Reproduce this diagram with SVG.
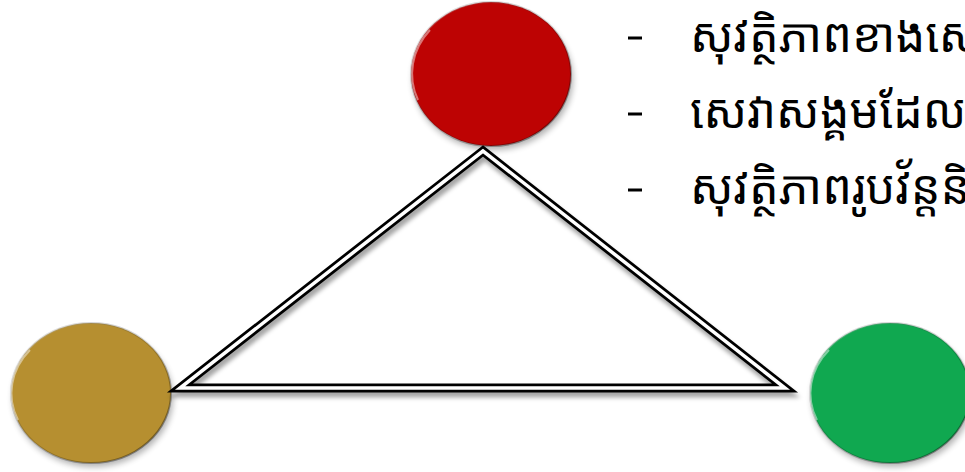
<svg xmlns="http://www.w3.org/2000/svg" width="965" height="472" viewBox="0 0 965 472">
<defs>
<style>
.txt{font-family:"Noto Sans Khmer","Khmer OS","Noto Sans","DejaVu Sans",sans-serif;font-size:47px;fill:#000}
.dash{stroke:#000;stroke-width:3}
.hl{fill:none;stroke:#fff;stroke-width:2;opacity:0.45}
</style>
<filter id="sh" x="-20%" y="-20%" width="140%" height="150%">
<feGaussianBlur stdDeviation="3"/>
</filter>
<filter id="tsh" x="-10%" y="-10%" width="120%" height="130%">
<feGaussianBlur stdDeviation="2"/>
</filter>
<linearGradient id="rim" x1="0" y1="0" x2="1" y2="1">
<stop offset="0" stop-color="#fff" stop-opacity="0.5"/>
<stop offset="0.5" stop-color="#000" stop-opacity="0.15"/>
<stop offset="1" stop-color="#000" stop-opacity="0.45"/>
</linearGradient>
</defs>

<g id="node-red">
<ellipse cx="493" cy="79" rx="80" ry="71" fill="#000" opacity="0.3" filter="url(#sh)"/>
<ellipse cx="491" cy="74" rx="80" ry="72" fill="#BD0303"/>
<ellipse cx="491" cy="74" rx="80" ry="72" fill="none" stroke="url(#rim)" stroke-width="2"/>
<path class="hl" d="M 418 100 A 76 68 0 0 1 430 30"/>
</g>

<g id="node-gold">
<ellipse cx="93" cy="398" rx="80" ry="69" fill="#000" opacity="0.3" filter="url(#sh)"/>
<ellipse cx="91" cy="393" rx="80" ry="70" fill="#B68F30"/>
<ellipse cx="91" cy="393" rx="80" ry="70" fill="none" stroke="url(#rim)" stroke-width="2"/>
<path class="hl" d="M 18 420 A 76 66 0 0 1 30 350"/>
</g>

<g id="node-green">
<ellipse cx="892" cy="398" rx="80" ry="69" fill="#000" opacity="0.3" filter="url(#sh)"/>
<ellipse cx="890" cy="393" rx="80" ry="70" fill="#10A850"/>
<ellipse cx="890" cy="393" rx="80" ry="70" fill="none" stroke="url(#rim)" stroke-width="2"/>
<path class="hl" d="M 817 420 A 76 66 0 0 1 829 350"/>
</g>

<g id="connectors">
<polygon points="483,151 180,388 785,388" fill="none" stroke="#000" stroke-opacity="0.35" stroke-width="9" transform="translate(2,5)" filter="url(#tsh)"/>
<polygon points="483,151 180,388 785,388" fill="none" stroke="#000" stroke-width="9" stroke-linejoin="miter" stroke-miterlimit="20"/>
<polygon points="483,151 180,388 785,388" fill="none" stroke="#fff" stroke-width="3.5" stroke-linejoin="miter" stroke-miterlimit="20"/>
</g>

<g id="text">
<line class="dash" x1="628" y1="38" x2="642" y2="38"/>
<text class="txt" x="690" y="52">សុវត្ថិភាពខាងសេដ្ឋកិច្ច</text>
<line class="dash" x1="628" y1="114" x2="642" y2="114"/>
<text class="txt" x="690" y="128">សេវាសង្គមដែលល្អ</text>
<line class="dash" x1="628" y1="190" x2="642" y2="190"/>
<text class="txt" x="690" y="204">សុវត្ថិភាពរូបវ័ន្តនិង</text>
</g>
</svg>
